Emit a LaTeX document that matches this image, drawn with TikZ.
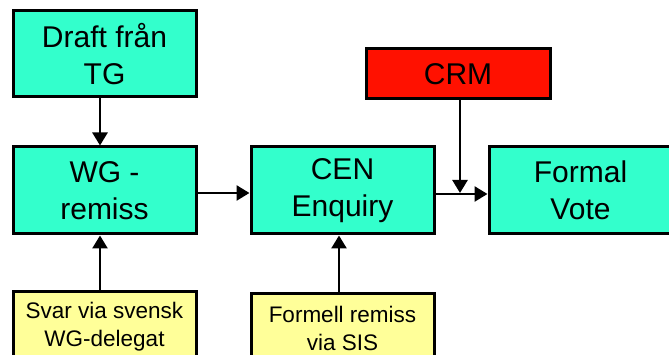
\documentclass[tikz,border=0pt]{standalone}
\usepackage{fontspec}
\setmainfont{Liberation Sans}
\usetikzlibrary{arrows.meta}
\definecolor{teal1}{HTML}{33FFCC}
\definecolor{crmred}{HTML}{FF1100}
\definecolor{ylw}{HTML}{FFFF99}
\tikzset{
  box/.style={draw=black, line width=3pt, fill=teal1, minimum width=183pt, minimum height=87pt,
    inner sep=0pt, align=center, font=\fontsize{30}{37}\selectfont},
  ybox/.style={draw=black, line width=3pt, fill=ylw, minimum width=183pt, minimum height=70pt,
    inner sep=0pt, align=center, font=\fontsize{22.5}{28}\selectfont, anchor=north},
  redbox/.style={draw=black, line width=3pt, fill=crmred, minimum width=184pt, minimum height=50pt,
    inner sep=0pt, align=center, font=\fontsize{30}{37}\selectfont},
  arr/.style={line width=2.6pt, -{Triangle[length=13pt,width=15pt]}},
  ln/.style={line width=2.6pt}
}
\begin{document}
\begin{tikzpicture}[x=1pt,y=1pt]
\useasboundingbox (0,0) rectangle (669,355);
\clip (0,0) rectangle (669,355);
\fill[white] (0,0) rectangle (669,355);
\node[box, minimum height=86pt] (draft) at (104.5,301) {Draft från\\TG};
\node[box] (wg) at (104.5,164.5) {WG -\\remiss};
\node[box] (cen) at (342.5,164.5) {CEN\\Enquiry};
\node[box] (vote) at (580.5,164.5) {Formal\\Vote};
\node[redbox] (crm) at (458,281) {CRM};
\node[ybox] (svar) at (104.5,65) {Svar via svensk\\WG-delegat};
\node[ybox] (formell) at (342.5,63) {Formell remiss\\via SIS};
\coordinate (j) at (460,161);
\draw[arr] ([xshift=-4.5pt]draft.south) -- ([xshift=-4.5pt]wg.north);
\draw[arr] ([xshift=-4.5pt]svar.north) -- ([xshift=-4.5pt]wg.south);
\draw[arr] ([xshift=-3.5pt]formell.north) -- ([xshift=-3.5pt]cen.south);
\draw[arr] ([yshift=-2.5pt]wg.east) -- ([yshift=-2.5pt]cen.west);
\draw[arr] ([yshift=-3.5pt]cen.east) -- ([yshift=-3.5pt]vote.west);
\draw[arr] ([xshift=2pt]crm.south) -- ([yshift=1pt]j);
\end{tikzpicture}
\end{document}
